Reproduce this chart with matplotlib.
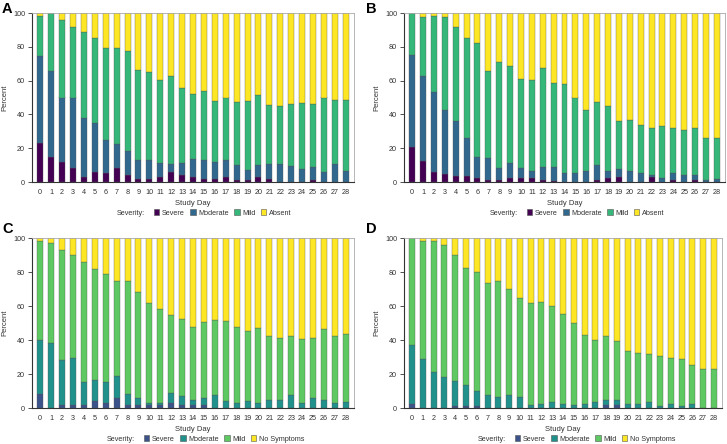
import matplotlib
matplotlib.use("Agg")
import matplotlib.pyplot as plt
from matplotlib.patches import Patch
import numpy as np

plt.rcParams['font.family'] = ['Liberation Sans', 'DejaVu Sans']

days = list(range(29))
day_labels = [str(d) for d in days]

# Panel A
a_severe = [23, 15, 12, 8.5, 3, 6, 5.5, 8.5, 4, 1.5, 1.5, 3, 6, 4.3, 3.1, 1.6, 1.8, 3, 1.4, 1.4, 3, 1.6, 0, 0, 0, 1.4, 0, 0, 0]
a_moderate = [51.5, 50.5, 38, 41.5, 35, 29, 19.5, 14, 14.5, 11.5, 11.5, 8.5, 4.5, 7.1, 10.5, 11.6, 10, 10, 8.8, 5.7, 7.2, 9, 10.6, 9.4, 7.7, 7.5, 6.1, 10.6, 6.5]
a_mild = [24, 34.5, 46, 42, 51, 50, 54.5, 56.5, 59, 53, 52, 49, 52.5, 44.1, 38.6, 40.5, 36, 37, 37, 40.7, 41.2, 34.9, 34.3, 36.6, 39.1, 37.4, 43.9, 37.8, 41.9]

# Panel B
b_severe = [21, 12.5, 6, 5, 3.5, 3.5, 2.5, 1, 1, 2.5, 2.5, 2.5, 1, 0.5, 0, 0, 0, 1.2, 2.6, 2.8, 0, 0, 2.8, 0, 1.2, 0, 1.2, 0, 0]
b_moderate = [54, 50.5, 47, 37.5, 32.5, 22.5, 12, 13, 7, 9, 5.5, 4, 8, 8.5, 5.3, 5.1, 6.3, 9, 3.7, 4.7, 6.5, 5.5, 1.1, 2.6, 4.1, 4.1, 2.7, 1.4, 1.8]
b_mild = [25, 34.5, 45.5, 55, 55.5, 59, 67.5, 51.5, 63, 57, 53, 54, 58.5, 49.7, 52.4, 44.9, 36.2, 37.2, 38.6, 28.7, 30.1, 28.2, 28.2, 30.3, 26.8, 26.4, 28.2, 24.8, 24.4]

# Panel C
c_severe = [8, 0, 1.5, 1.5, 1.5, 4, 3, 6, 1.5, 1.5, 1.5, 1.5, 3, 1.6, 1.6, 1.6, 0, 0, 0, 0, 0, 0, 0, 0, 0, 0, 0, 0, 0]
c_moderate = [32, 38, 26.5, 28, 14, 12.5, 12.5, 13, 7, 4.5, 1.5, 1.5, 6, 5.3, 2.9, 4.1, 7.5, 4.3, 3, 4.3, 3, 4.5, 4.5, 7.7, 3, 5.7, 4.5, 3.1, 3.3]
c_mild = [58.5, 59, 65, 60.5, 70.5, 65.5, 63.5, 55.5, 66.5, 62, 59, 55, 45.5, 45.3, 43.1, 44.9, 44.1, 47.1, 44.6, 40.8, 44, 37.8, 36.8, 34.6, 37.6, 35.4, 42, 39.2, 40.2]

# Panel D
d_severe = [2.5, 0, 0, 0, 1, 1, 1, 0, 0, 0, 0, 0, 0, 0, 0, 0, 0, 0, 1.6, 1.6, 0, 0, 0, 0, 0, 0, 0, 0, 0]
d_moderate = [34.5, 29, 21, 18, 15, 12.5, 9, 7.5, 6.5, 7.5, 6.5, 1.5, 2.5, 3.7, 2.6, 1.6, 2.6, 3.7, 3.3, 3.3, 2.6, 2.6, 3.7, 1.4, 2.6, 1.4, 2.6, 0, 0]
d_mild = [63, 69.5, 77.5, 78, 74, 69, 70, 66, 68.5, 62.5, 58.5, 60.5, 60, 56.3, 52.6, 48.5, 40.4, 36.3, 37.5, 34.5, 31.1, 29.7, 28.2, 29.1, 26.9, 27.7, 22.6, 23, 22.8]

labels_ab = ['Severe', 'Moderate', 'Mild', 'Absent']
labels_cd = ['Severe', 'Moderate', 'Mild', 'No Symptoms']
colors_ab = ['#440154', '#31688e', '#35b779', '#fde725']
colors_cd = ['#3b528b', '#21918c', '#5ec962', '#fde725']

W, H = 727, 444
fig = plt.figure(figsize=(W / 100, H / 100), dpi=100)

def px_axes(x0, y0, x1, y1):
    return fig.add_axes([x0 / W, 1 - y1 / H, (x1 - x0) / W, (y1 - y0) / H])

panels = [
    ('A', (32, 13, 354, 182), a_severe, a_moderate, a_mild, labels_ab, colors_ab, (2, 2), (154, 213)),
    ('B', (404, 13, 725, 182), b_severe, b_moderate, b_mild, labels_ab, colors_ab, (366, 2), (527, 213)),
    ('C', (32, 238, 354, 408), c_severe, c_moderate, c_mild, labels_cd, colors_cd, (2, 222), (144, 439)),
    ('D', (404, 238, 722, 408), d_severe, d_moderate, d_mild, labels_cd, colors_cd, (366, 222), (515, 439)),
]

x = np.array(days)
for letter, box, sev, mod, mild, labels, colors, lpos, legpos in panels:
    ax = px_axes(*box)
    sev = np.array(sev, float)
    mod = np.array(mod, float)
    mild = np.array(mild, float)
    absent = 100 - sev - mod - mild
    bottom = np.zeros_like(sev)
    for vals, c in zip([sev, mod, mild, absent], colors):
        ax.bar(x, vals, bottom=bottom, width=0.55, color=c, edgecolor='#555555', linewidth=0.25)
        bottom = bottom + vals
    ax.set_xlim(-0.75, 28.75)
    ax.set_ylim(0, 100)
    ax.set_xticks(x)
    ax.set_xticklabels(day_labels)
    ax.set_yticks([0, 20, 40, 60, 80, 100])
    ax.tick_params(axis='x', length=0, labelsize=5.2, pad=5, colors='#333333')
    ax.tick_params(axis='y', length=3, width=0.6, labelsize=5.2, pad=2, colors='#333333')
    for s in ['top', 'right']:
        ax.spines[s].set_color('#aaaaaa')
        ax.spines[s].set_linewidth(0.6)
    for s in ['left', 'bottom']:
        ax.spines[s].set_color('#333333')
        ax.spines[s].set_linewidth(0.8)
    ax.set_xlabel('Study Day', fontsize=5.5, color='#333333', labelpad=3)
    ax.set_ylabel('Percent', fontsize=5.5, color='#333333')
    axw = box[2] - box[0]
    ax.yaxis.set_label_coords(-24 / axw, 0.5)
    fig.text(lpos[0] / W, 1 - lpos[1] / H, letter, fontsize=10.5, fontweight='bold', va='top', ha='left')

    handles = [Patch(facecolor=c, edgecolor='#555555', linewidth=0.4) for c in colors]
    leg = fig.legend(handles, labels, ncol=4, loc='center left', frameon=False,
                     bbox_to_anchor=(legpos[0] / W, 1 - legpos[1] / H),
                     fontsize=5.2, handlelength=0.75, handleheight=0.75, handletextpad=0.35,
                     columnspacing=0.75, borderpad=0, borderaxespad=0)
    for t in leg.get_texts():
        t.set_color('#333333')
    fig.text((legpos[0] - 9) / W, 1 - legpos[1] / H, 'Severity:', fontsize=5.2, color='#333333',
             ha='right', va='center')

fig.savefig('out.png', dpi=100)
